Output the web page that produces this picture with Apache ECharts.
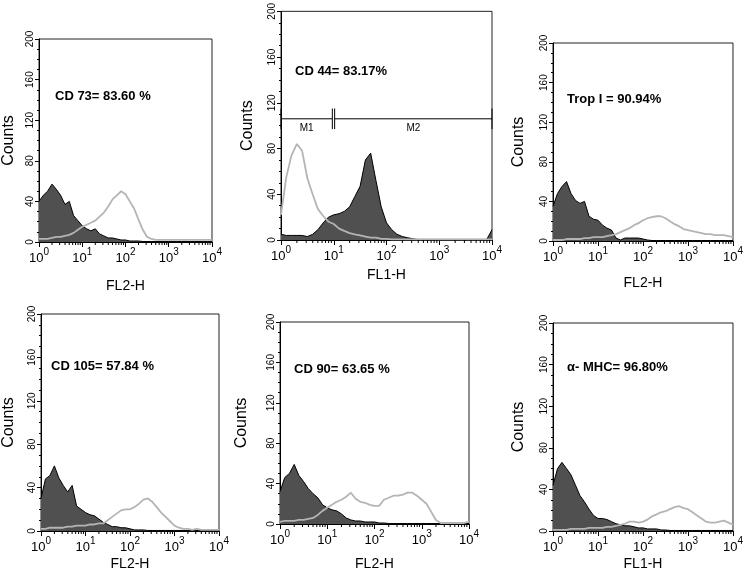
<!DOCTYPE html>
<html><head><meta charset="utf-8">
<script src="https://cdn.jsdelivr.net/npm/echarts@6/dist/echarts.min.js"></script>
<style>html,body{margin:0;padding:0;background:#fff}#c{width:746px;height:572px}</style>
</head><body><div id="c"></div>
<script>
// fluorescence channel bins (log spaced, 10^0 .. 10^4)
const bins = [1, 1.26, 1.58, 2.0, 2.51, 3.16, 3.98, 5.01, 6.31, 7.94,
  10, 12.6, 15.8, 20, 25.1, 31.6, 39.8, 50.1, 63.1, 79.4,
  100, 126, 158, 200, 251, 316, 398, 501, 631, 794,
  1000, 1259, 1585, 1995, 2512, 3162, 3981, 5012, 6310, 7943, 10000];
const xMajorTicks = [1, 10, 100, 1000, 10000];
const xMinorTicks = [2,3,4,5,6,7,8,9,20,30,40,50,60,70,80,90,200,300,400,500,600,700,800,900,2000,3000,4000,5000,6000,7000,8000,9000];
const yTicks = [0, 40, 80, 120, 160, 200];

// CD 73 (FL2-H)
const cd73Ctrl = [40,46,50,57,52,46,37,40,26,21,16,13,11,13,8,6,4,4,3,2,2,1,1,1,0.5,0.5,0.5,0.5,0.5,0.5,0.5,0.5,0.5,0.5,0.5,0.5,0.5,0.5,0.5,0.5,0.5];
const cd73Stain = [3,3,3,4,5,5,6,7,9,12,15,17,19,21,25,29,35,42,46,50,47,40,33,22,12,5,3,2,2,2,2,2,2,2,2,2,2,2,2,2,2];
// CD 44 (FL1-H)
const cd44Ctrl = [5,4,4,4,4,3,5,9,15,20,22,23,25,29,38,47,70,76,52,29,15,9,5,3,2,1,0.5,0.5,0.5,0.5,0.5,0.5,0.5,0.5,0.5,0.5,0.5,0.5,0.5,0.5,9];
const cd44Stain = [22,55,74,84,78,54,40,27,21,16,14,10,8,6,5,4,3,2,2,1,1,0.5,0.5,0.5,0.5,0.5,0.5,0.5,0.5,0.5,0.5,0.5,0.5,0.5,0.5,0.5,0.5,0.5,0.5,0.5,0.5];
// Trop I (FL2-H)
const tropCtrl = [35,48,55,60,48,41,38,40,25,22,21,16,13,11,3,1,3,3,3,3,2,1,0.5,0.5,0.5,0.5,0.5,0.5,0.5,0.5,0.5,0.5,0.5,0.5,0.5,0.5,0.5,0.5,0.5,0.5,0.5];
const tropStain = [1,1,1,2,2,2,2,3,3,4,4,4,5,6,7,9,11,13,16,18,21,23,24,25,25,23,20,17,15,12,11,10,9,8,7,7,6,6,6,5,4];
// CD 105 (FL2-H)
const cd105Ctrl = [30,48,51,60,49,42,36,42,23,20,17,15,14,11,8,6,4,4,3,3,2,1,1,1,0.5,0.5,0.5,0.5,0.5,0.5,0.5,0.5,0.5,0.5,0.5,0.5,0.5,0.5,0.5,0.5,0.5];
const cd105Stain = [2,2,3,3,3,3,4,4,5,5,5,6,6,7,7,10,13,16,19,20,20,22,25,29,30,27,22,17,13,9,5,3,2,2,1,2,1,1,1,1,1];
// CD 90 (FL2-H)
const cd90Ctrl = [32,46,50,59,48,42,35,30,26,19,16,14,13,10,6,4,3,3,2,2,2,1,1,0.5,0.5,0.5,0.5,0.5,0.5,0.5,0.5,0.5,0.5,0.5,0.5,0.5,0.5,0.5,0.5,0.5,0.5];
const cd90Stain = [2,3,3,3,4,4,5,6,9,13,16,19,22,24,27,31,25,22,21,19,18,18,24,26,28,28,29,31,31,28,24,20,12,4,1,1,1,1,1,1,2];
// alpha-MHC (FL1-H)
const mhcCtrl = [44,60,66,60,54,44,34,28,21,15,12,12,11,9,7,6,5,5,4,3,3,2,2,2,1,1,0.5,0.5,0.5,0.5,0.5,0.5,0.5,0.5,0.5,0.5,0.5,0.5,0.5,0.5,0.5];
const mhcStain = [1,1,1,1,2,2,2,2,3,3,3,3,4,4,5,6,7,9,9,8,9,11,14,16,18,19,21,23,24,22,21,18,15,12,9,8,8,9,10,8,6];

// marker gates drawn on the CD 44 panel
const gateNames = ['M1', 'M2'];
const gateFrom = [1, 10.4];
const gateTo = [9.4, 10000];
const gateLevel = [106, 106];

const panels = [
  {text:'CD 73= 83.60 %', xName:'FL2-H', ctrl:cd73Ctrl, stain:cd73Stain,
   grid:{left:36, top:39, width:176, height:203}, xGap:37, yGap:22, tl:55, tt:90},
  {text:'CD 44= 83.17%', xName:'FL1-H', ctrl:cd44Ctrl, stain:cd44Stain,
   grid:{left:281, top:11, width:211, height:229}, xGap:28, yGap:25, tl:295, tt:65, gates:true},
  {text:'Trop I = 90.94%', xName:'FL2-H', ctrl:tropCtrl, stain:tropStain,
   grid:{left:553, top:43, width:184, height:198}, xGap:35, yGap:26, tl:567, tt:93},
  {text:'CD 105= 57.84 %', xName:'FL2-H', ctrl:cd105Ctrl, stain:cd105Stain,
   grid:{left:36, top:314, width:183, height:218}, xGap:26, yGap:24, tl:51, tt:360},
  {text:'CD 90= 63.65 %', xName:'FL2-H', ctrl:cd90Ctrl, stain:cd90Stain,
   grid:{left:280, top:322, width:189, height:208}, xGap:33, yGap:30, tl:294, tt:363},
  {text:'\u03b1- MHC= 96.80%', xName:'FL1-H', ctrl:mhcCtrl, stain:mhcStain,
   grid:{left:553, top:323, width:185, height:209}, xGap:26, yGap:26, tl:567, tt:361}
];

const FONT = "'Liberation Sans', Arial, Helvetica, sans-serif";
const grids = [], xAxes = [], yAxes = [], series = [], titles = [];

panels.forEach((p, i) => {
  grids.push(Object.assign({show:true, borderColor:'#222', borderWidth:1, backgroundColor:'#fff'}, p.grid));
  xAxes.push({
    type:'log', logBase:10, min:1, max:10000, gridIndex:i,
    name:p.xName, nameLocation:'middle', nameGap:p.xGap,
    nameTextStyle:{fontSize:14, color:'#000', fontFamily:FONT},
    axisLine:{show:true, lineStyle:{color:'#000', width:1}},
    axisTick:{show:true, length:5, lineStyle:{color:'#000'}},
    splitLine:{show:false},
    axisLabel:{
      margin:5, color:'#000', fontFamily:FONT,
      formatter: v => '{b|10}{s|' + Math.round(Math.log10(v)) + '}',
      rich:{b:{fontSize:13, fontFamily:FONT, color:'#000', verticalAlign:'bottom'},
            s:{fontSize:10, fontFamily:FONT, color:'#000', verticalAlign:'top', padding:[0,0,8,0]}}
    }
  });
  yAxes.push({
    type:'value', min:yTicks[0], max:yTicks[yTicks.length-1], interval:40, gridIndex:i,
    name:'Counts', nameLocation:'middle', nameGap:p.yGap,
    nameTextStyle:{fontSize:16, color:'#000', fontFamily:FONT},
    axisLine:{show:true, lineStyle:{color:'#000', width:1}},
    axisTick:{show:true, length:4, lineStyle:{color:'#000'}},
    minorTick:{show:true, splitNumber:4, length:2, lineStyle:{color:'#000'}},
    splitLine:{show:false},
    axisLabel:{rotate:90, margin:4, fontSize:10, color:'#000', fontFamily:FONT}
  });
  series.push({
    type:'line', xAxisIndex:i, yAxisIndex:i, symbol:'none', silent:true, z:2,
    data: bins.map((x, k) => [x, p.ctrl[k]]),
    lineStyle:{color:'#000', width:1},
    areaStyle:{color:'#505050', opacity:1}
  });
  series.push({
    type:'line', xAxisIndex:i, yAxisIndex:i, symbol:'none', silent:true, z:3,
    data: bins.map((x, k) => [x, p.stain[k]]),
    lineStyle:{color:'#b4b4b4', width:1.8}
  });
  series.push({
    type:'custom', xAxisIndex:i, yAxisIndex:i, silent:true, z:4, clip:false,
    data: xMinorTicks.map(v => [v, 0]),
    encode:{x:0, y:1},
    renderItem:(params, api) => {
      const pt = api.coord([api.value(0), 0]);
      return {type:'line', shape:{x1:pt[0], y1:pt[1], x2:pt[0], y2:pt[1] + 3},
              style:{stroke:'#000', lineWidth:1}};
    }
  });
  if (p.gates) {
    series.push({
      type:'custom', xAxisIndex:i, yAxisIndex:i, silent:true, z:5, clip:false,
      data: gateNames.map((n, k) => [gateFrom[k], gateTo[k], gateLevel[k]]),
      encode:{x:[0,1], y:2},
      renderItem:(params, api) => {
        const f = api.value(0), t = api.value(1), lv = api.value(2);
        const a = api.coord([f, lv]), b = api.coord([t, lv]);
        const hi = api.coord([f, lv + 9])[1], lo = api.coord([f, lv - 9])[1];
        const mid = api.coord([Math.sqrt(f * t), lv])[0];
        const st = {stroke:'#000', lineWidth:1};
        return {type:'group', children:[
          {type:'line', shape:{x1:a[0], y1:a[1], x2:b[0], y2:b[1]}, style:st},
          {type:'line', shape:{x1:a[0], y1:hi, x2:a[0], y2:lo}, style:st},
          {type:'line', shape:{x1:b[0], y1:hi, x2:b[0], y2:lo}, style:st},
          {type:'text', style:{text:gateNames[params.dataIndex], x:mid, y:a[1] + 4,
            align:'center', verticalAlign:'top', fontSize:10, fontFamily:FONT, fill:'#000'}}
        ]};
      }
    });
  }
  titles.push({
    text:p.text, left:p.tl, top:p.tt, padding:0,
    textStyle:{fontSize:13, fontWeight:'bold', color:'#000',
      fontFamily:"'Liberation Sans Narrow', 'Arial Narrow', 'Liberation Sans', sans-serif"}
  });
});

const chart = echarts.init(document.getElementById('c'), null, {renderer:'canvas'});
chart.setOption({
  backgroundColor:'#fff',
  animation:false,
  title:titles,
  grid:grids,
  xAxis:xAxes,
  yAxis:yAxes,
  series:series
});
</script>
</body></html>
